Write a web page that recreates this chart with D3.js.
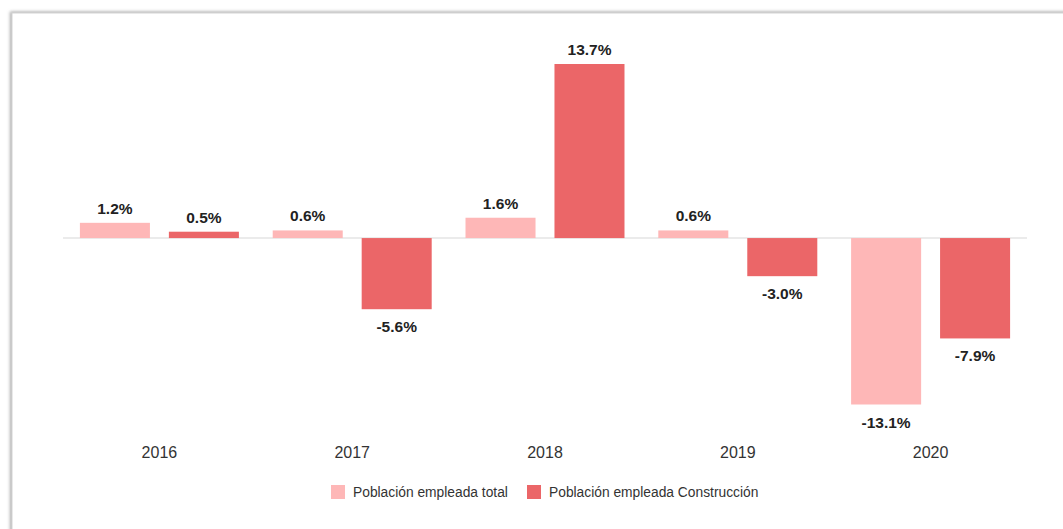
<!DOCTYPE html>
<html>
<head>
<meta charset="utf-8">
<script src="https://cdn.jsdelivr.net/npm/d3@7"></script>
<style>
  body { margin: 0; background: #fff; }
  svg { display: block; font-family: "Liberation Sans", Arial, sans-serif; }
</style>
</head>
<body>
<svg id="chart"></svg>
<script>
// tamaño
var size = { width: 1063, height: 529 };

// datos
var years = ["2016", "2017", "2018", "2019", "2020"];
var series = ["Población empleada total", "Población empleada Construcción"];
var total = [1.2, 0.6, 1.6, 0.6, -13.1];
var construccion = [0.5, -5.6, 13.7, -3.0, -7.9];
var colors = ["#feb7b7", "#eb6668"];

var svg = d3.select("#chart")
  .attr("width", size.width)
  .attr("height", size.height);

// marco con sombra
var defs = svg.append("defs");
var f = defs.append("filter").attr("id", "sh").attr("x", "-5%").attr("y", "-5%").attr("width", "110%").attr("height", "110%");
f.append("feDropShadow").attr("dx", -1.5).attr("dy", -1).attr("stdDeviation", 1.5).attr("flood-color", "#888").attr("flood-opacity", 0.7);
svg.append("rect")
  .attr("x", 12).attr("y", 13)
  .attr("width", size.width + 20).attr("height", size.height + 20)
  .attr("fill", "#fff")
  .attr("stroke", "#d4d4d4")
  .attr("stroke-width", 1)
  .attr("filter", "url(#sh)");

var x0 = d3.scaleBand().domain(years).range([63, 1027]);
var x1 = d3.scaleBand().domain(series).range([0, x0.bandwidth()])
  .paddingInner(0.213).paddingOuter(0.19);
var y = d3.scaleLinear().domain([-13.1, 13.7]).range([404.5, 64]);

var rows = years.map(function(yr, i){
  return { year: yr, values: [
    { key: series[0], v: total[i], c: colors[0] },
    { key: series[1], v: construccion[i], c: colors[1] }
  ]};
});

// línea cero
svg.append("line")
  .attr("x1", x0.range()[0]).attr("x2", x0.range()[1])
  .attr("y1", y(0)).attr("y2", y(0))
  .attr("stroke", "#e4e4e4").attr("stroke-width", 1.5);

var g = svg.selectAll("g.grp").data(rows).enter().append("g")
  .attr("class", "grp")
  .attr("transform", function(d){ return "translate(" + x0(d.year) + ",0)"; });

g.selectAll("rect").data(function(d){ return d.values; }).enter().append("rect")
  .attr("x", function(d){ return x1(d.key); })
  .attr("width", x1.bandwidth())
  .attr("y", function(d){ return y(Math.max(0, d.v)); })
  .attr("height", function(d){ return Math.abs(y(d.v) - y(0)); })
  .attr("fill", function(d){ return d.c; });

g.selectAll("text.lbl").data(function(d){ return d.values; }).enter().append("text")
  .attr("class", "lbl")
  .attr("x", function(d){ return x1(d.key) + x1.bandwidth() / 2; })
  .attr("y", function(d){ return d.v >= 0 ? y(d.v) - 9 : y(d.v) + 23; })
  .attr("text-anchor", "middle")
  .attr("font-size", 15.5)
  .attr("font-weight", "bold")
  .attr("fill", "#222")
  .text(function(d){ return d.v.toFixed(1) + "%"; });

// eje x
var xAxis = d3.axisBottom(x0).tickSize(0).tickPadding(0);
svg.append("g")
  .attr("transform", "translate(0,458)")
  .call(xAxis)
  .call(function(a){ a.select(".domain").remove(); })
  .selectAll("text")
    .attr("font-size", 16)
    .attr("font-family", "Liberation Sans, Arial, sans-serif")
    .attr("fill", "#333")
    .attr("dy", 0);

// leyenda
var legX = [331, 527];
var leg = svg.selectAll("g.leg").data(series).enter().append("g")
  .attr("class", "leg")
  .attr("transform", function(d, i){ return "translate(" + legX[i] + ",485)"; });
leg.append("rect").attr("width", 14).attr("height", 14)
  .attr("fill", function(d, i){ return colors[i]; });
leg.append("text").attr("x", 22).attr("y", 12)
  .attr("font-size", 13.8).attr("fill", "#333")
  .text(function(d){ return d; });
</script>
</body>
</html>
